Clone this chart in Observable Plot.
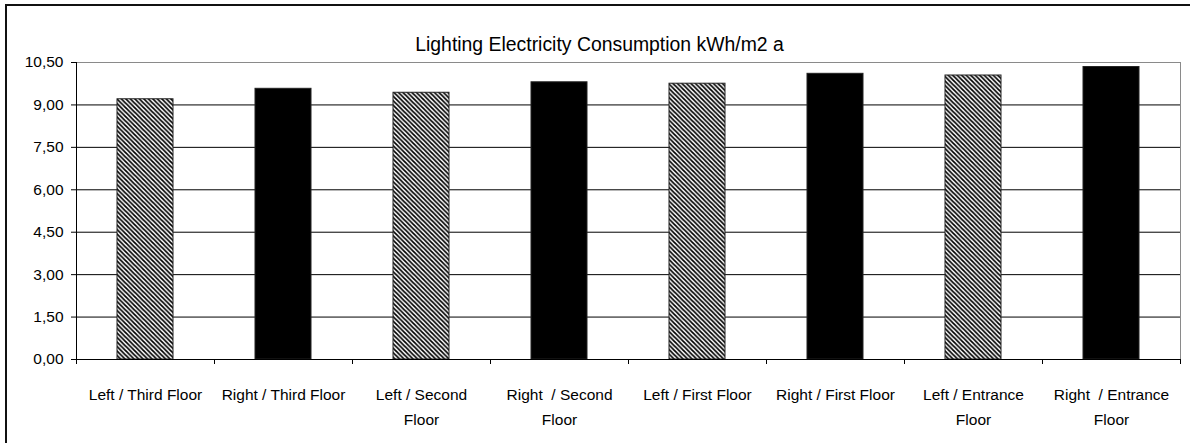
<!DOCTYPE html>
<html>
<head>
<meta charset="utf-8">
<script src="https://cdn.jsdelivr.net/npm/d3@7"></script>
<script src="https://cdn.jsdelivr.net/npm/@observablehq/plot@0.6"></script>
<style>
  html, body { margin: 0; padding: 0; background: #fff; }
  #wrap { position: relative; width: 1190px; height: 443px; overflow: hidden; }
  #wrap svg text { white-space: pre; }
  #border { position: absolute; left: 5px; top: 4px; width: 1300px; height: 600px;
            border-left: 2px solid #111; border-top: 2px solid #111; pointer-events: none; }
</style>
</head>
<body>
<svg width="0" height="0" style="position:absolute">
  <defs>
    <pattern id="hatch" patternUnits="userSpaceOnUse" width="4.5" height="4.5">
      <rect width="4.5" height="4.5" fill="#fff"></rect>
      <path d="M-1,-1 L5.5,5.5 M-1,3.5 L1,5.5 M3.5,-1 L5.5,1" stroke="#000" stroke-width="1.7"></path>
    </pattern>
  </defs>
</svg>
<div id="wrap"></div>
<script>
const title = "Lighting Electricity Consumption kWh/m2 a";
const categories = [
  "Left / Third Floor",
  "Right / Third Floor",
  "Left / Second\nFloor",
  "Right  / Second\nFloor",
  "Left / First Floor",
  "Right / First Floor",
  "Left / Entrance\nFloor",
  "Right  / Entrance\nFloor"
];
const sides = ["Left", "Right", "Left", "Right", "Left", "Right", "Left", "Right"];
const values = [9.20, 9.57, 9.43, 9.80, 9.75, 10.10, 10.04, 10.34];
const yTicks = [0, 1.5, 3, 4.5, 6, 7.5, 9, 10.5];

const data = categories.map((c, i) => ({category: c, side: sides[i], value: values[i]}));

const W = 1190, H = 443, ML = 76, MR = 10, MT = 62, MB = 84;
const step = (W - ML - MR) / categories.length;
const fmt = d => d.toFixed(2).replace(".", ",");

const chart = Plot.plot({
  width: W,
  height: H,
  marginLeft: ML,
  marginRight: MR,
  marginTop: MT,
  marginBottom: MB,
  style: {fontFamily: "'Liberation Sans', Arial, sans-serif", fontSize: "15.5px", background: "transparent", color: "#000"},
  x: {domain: categories, padding: 0},
  y: {domain: [0, 10.5]},
  color: {domain: ["Left", "Right"], range: ["url(#hatch)", "#000"]},
  marks: [
    Plot.frame({stroke: "#8a8a8a"}),
    Plot.ruleY(yTicks.filter(d => d > 0 && d < 10.5), {stroke: "#000", strokeWidth: 1}),
    Plot.barY(data, {x: "category", y: "value", fill: "side", stroke: "#222", strokeWidth: 1, insetLeft: 41, insetRight: 41}),
    Plot.ruleY([0], {stroke: "#000"}),
    // y axis line (at left band boundary), extended below 0 like a tick
    Plot.ruleX([categories[0]], {x: d => d, dx: -step / 2, y1: 10.5, y2: 0, insetBottom: -5, stroke: "#000"}),
    // category boundary ticks
    Plot.ruleX(categories.slice(1), {x: d => d, dx: -step / 2, y1: 0, y2: 0, insetBottom: -5, stroke: "#000"}),
    Plot.ruleX([categories[categories.length - 1]], {x: d => d, dx: step / 2, y1: 0, y2: 0, insetBottom: -5, stroke: "#000"}),
    Plot.axisY(yTicks, {tickSize: 5, tickPadding: 8, tickFormat: fmt, fontSize: 15.5, label: null, stroke: "#000"}),
    Plot.axisX({tickSize: 0, tickPadding: 23, fontSize: 15.5, lineHeight: 1.6, label: null}),
    Plot.text([title], {frameAnchor: "top", lineAnchor: "bottom", dy: -12, dx: -29, fontSize: 19.4, fill: "#000"})
  ]
});

const wrap = document.getElementById("wrap");
wrap.appendChild(chart);
const border = document.createElement("div");
border.id = "border";
wrap.appendChild(border);
</script>
</body>
</html>
